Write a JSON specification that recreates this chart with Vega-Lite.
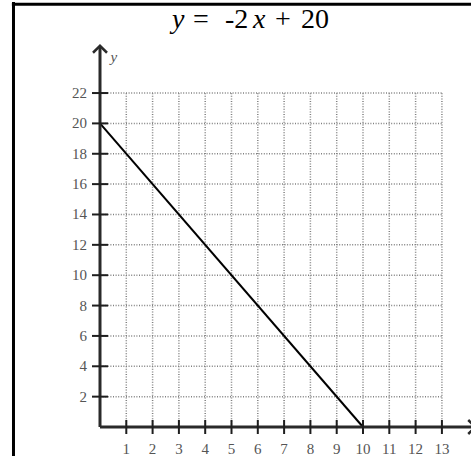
{
  "$schema": "https://vega.github.io/schema/vega-lite/v6.json",
  "width": 471,
  "height": 456,
  "padding": 0,
  "autosize": {"type": "none"},
  "background": "white",
  "config": {"view": {"stroke": null}},
  "datasets": {
    "xticks": [{"x": 1}, {"x": 2}, {"x": 3}, {"x": 4}, {"x": 5}, {"x": 6}, {"x": 7}, {"x": 8}, {"x": 9}, {"x": 10}, {"x": 11}, {"x": 12}, {"x": 13}],
    "yticks": [{"y": 2}, {"y": 4}, {"y": 6}, {"y": 8}, {"y": 10}, {"y": 12}, {"y": 14}, {"y": 16}, {"y": 18}, {"y": 20}, {"y": 22}],
    "line": [{"x": 0, "y": 20}, {"x": 10, "y": 0}],
    "one": [{}]
  },
  "layer": [
    {
      "data": {"name": "xticks"},
      "mark": {"type": "rule", "stroke": "#808080", "strokeWidth": 1.5, "strokeDash": [1, 1.6]},
      "encoding": {
        "x": {"field": "x", "type": "quantitative", "scale": {"domain": [-3.802, 14.106], "nice": false, "zero": false}, "axis": null},
        "y": {"datum": 0, "type": "quantitative", "scale": {"domain": [-1.91, 28.129], "nice": false, "zero": false}, "axis": null},
        "y2": {"datum": 22}
      }
    },
    {
      "data": {"name": "yticks"},
      "mark": {"type": "rule", "stroke": "#808080", "strokeWidth": 1.5, "strokeDash": [1, 1.6]},
      "encoding": {
        "x": {"datum": 0, "type": "quantitative"},
        "x2": {"datum": 13},
        "y": {"field": "y", "type": "quantitative"}
      }
    },
    {
      "data": {"name": "line"},
      "mark": {"type": "line", "stroke": "black", "strokeWidth": 2},
      "encoding": {
        "x": {"field": "x", "type": "quantitative"},
        "y": {"field": "y", "type": "quantitative"}
      }
    },
    {
      "data": {"name": "one"},
      "mark": {"type": "rule", "stroke": "#2a2a2a", "strokeWidth": 3},
      "encoding": {
        "x": {"datum": 0, "type": "quantitative"},
        "y": {"datum": 0, "type": "quantitative"},
        "y2": {"datum": 25.1}
      }
    },
    {
      "data": {"name": "one"},
      "mark": {"type": "rule", "stroke": "#2a2a2a", "strokeWidth": 3},
      "encoding": {
        "x": {"datum": 0, "type": "quantitative"},
        "x2": {"datum": 14.106},
        "y": {"datum": 0, "type": "quantitative"}
      }
    },
    {
      "data": {"name": "xticks"},
      "mark": {"type": "tick", "orient": "vertical", "size": 14, "thickness": 2, "color": "#1e1e1e", "opacity": 1},
      "encoding": {
        "x": {"field": "x", "type": "quantitative"},
        "y": {"datum": 0, "type": "quantitative"}
      }
    },
    {
      "data": {"name": "yticks"},
      "mark": {"type": "tick", "orient": "horizontal", "size": 16, "thickness": 2, "color": "#1e1e1e", "opacity": 1},
      "encoding": {
        "x": {"datum": 0, "type": "quantitative"},
        "y": {"field": "y", "type": "quantitative"}
      }
    },
    {
      "data": {"name": "xticks"},
      "mark": {"type": "text", "font": "Liberation Serif", "fontSize": 15, "color": "#555555", "align": "center", "baseline": "middle", "dy": 22},
      "encoding": {
        "x": {"field": "x", "type": "quantitative"},
        "y": {"datum": 0, "type": "quantitative"},
        "text": {"field": "x", "type": "quantitative"}
      }
    },
    {
      "data": {"name": "yticks"},
      "mark": {"type": "text", "font": "Liberation Serif", "fontSize": 15, "color": "#555555", "align": "right", "baseline": "middle", "dx": -13},
      "encoding": {
        "x": {"datum": 0, "type": "quantitative"},
        "y": {"field": "y", "type": "quantitative"},
        "text": {"field": "y", "type": "quantitative"}
      }
    },
    {
      "data": {"name": "one"},
      "mark": {"type": "point", "shape": "M-1,0.75L0,-0.25L1,0.75", "size": 196, "filled": false, "stroke": "#2a2a2a", "strokeWidth": 2.5, "opacity": 1},
      "encoding": {
        "x": {"datum": 0, "type": "quantitative"},
        "y": {"datum": 25.0, "type": "quantitative"}
      }
    },
    {
      "data": {"name": "one"},
      "mark": {"type": "point", "shape": "M-0.75,-1L0.25,0L-0.75,1", "size": 196, "filled": false, "stroke": "#2a2a2a", "strokeWidth": 2.5, "opacity": 1},
      "encoding": {
        "x": {"datum": 14.2, "type": "quantitative"},
        "y": {"datum": 0, "type": "quantitative"}
      }
    },
    {
      "data": {"name": "one"},
      "mark": {"type": "text", "text": "y", "font": "Liberation Serif", "fontStyle": "italic", "fontSize": 15, "color": "#555555", "align": "center", "baseline": "middle"},
      "encoding": {
        "x": {"datum": 0.53, "type": "quantitative"},
        "y": {"datum": 24.37, "type": "quantitative"}
      }
    },
    {
      "data": {"name": "one"},
      "mark": {"type": "rule", "stroke": "black", "strokeWidth": 3},
      "encoding": {
        "x": {"datum": -3.289, "type": "quantitative"},
        "y": {"datum": 28.0, "type": "quantitative"},
        "y2": {"datum": -1.91}
      }
    },
    {
      "data": {"name": "one"},
      "mark": {"type": "rule", "stroke": "black", "strokeWidth": 3},
      "encoding": {
        "x": {"datum": -3.35, "type": "quantitative"},
        "x2": {"datum": 14.106},
        "y": {"datum": 27.85, "type": "quantitative"}
      }
    },
    {
      "data": {"name": "one"},
      "mark": {"type": "text", "text": "y", "font": "Liberation Serif", "fontStyle": "italic", "fontSize": 28, "color": "black", "align": "left", "baseline": "alphabetic"},
      "encoding": {
        "x": {"datum": 2.738, "type": "quantitative"},
        "y": {"datum": 26.28, "type": "quantitative"}
      }
    },
    {
      "data": {"name": "one"},
      "mark": {"type": "text", "text": "=", "font": "Liberation Serif", "fontSize": 28, "color": "black", "align": "left", "baseline": "alphabetic"},
      "encoding": {
        "x": {"datum": 3.536, "type": "quantitative"},
        "y": {"datum": 26.28, "type": "quantitative"}
      }
    },
    {
      "data": {"name": "one"},
      "mark": {"type": "text", "text": "-2", "font": "Liberation Serif", "fontSize": 28, "color": "black", "align": "left", "baseline": "alphabetic"},
      "encoding": {
        "x": {"datum": 4.753, "type": "quantitative"},
        "y": {"datum": 26.28, "type": "quantitative"}
      }
    },
    {
      "data": {"name": "one"},
      "mark": {"type": "text", "text": "x", "font": "Liberation Serif", "fontStyle": "italic", "fontSize": 28, "color": "black", "align": "left", "baseline": "alphabetic"},
      "encoding": {
        "x": {"datum": 5.818, "type": "quantitative"},
        "y": {"datum": 26.28, "type": "quantitative"}
      }
    },
    {
      "data": {"name": "one"},
      "mark": {"type": "text", "text": "+", "font": "Liberation Serif", "fontSize": 28, "color": "black", "align": "left", "baseline": "alphabetic"},
      "encoding": {
        "x": {"datum": 6.654, "type": "quantitative"},
        "y": {"datum": 26.28, "type": "quantitative"}
      }
    },
    {
      "data": {"name": "one"},
      "mark": {"type": "text", "text": "20", "font": "Liberation Serif", "fontSize": 28, "color": "black", "align": "left", "baseline": "alphabetic"},
      "encoding": {
        "x": {"datum": 7.643, "type": "quantitative"},
        "y": {"datum": 26.28, "type": "quantitative"}
      }
    }
  ]
}
